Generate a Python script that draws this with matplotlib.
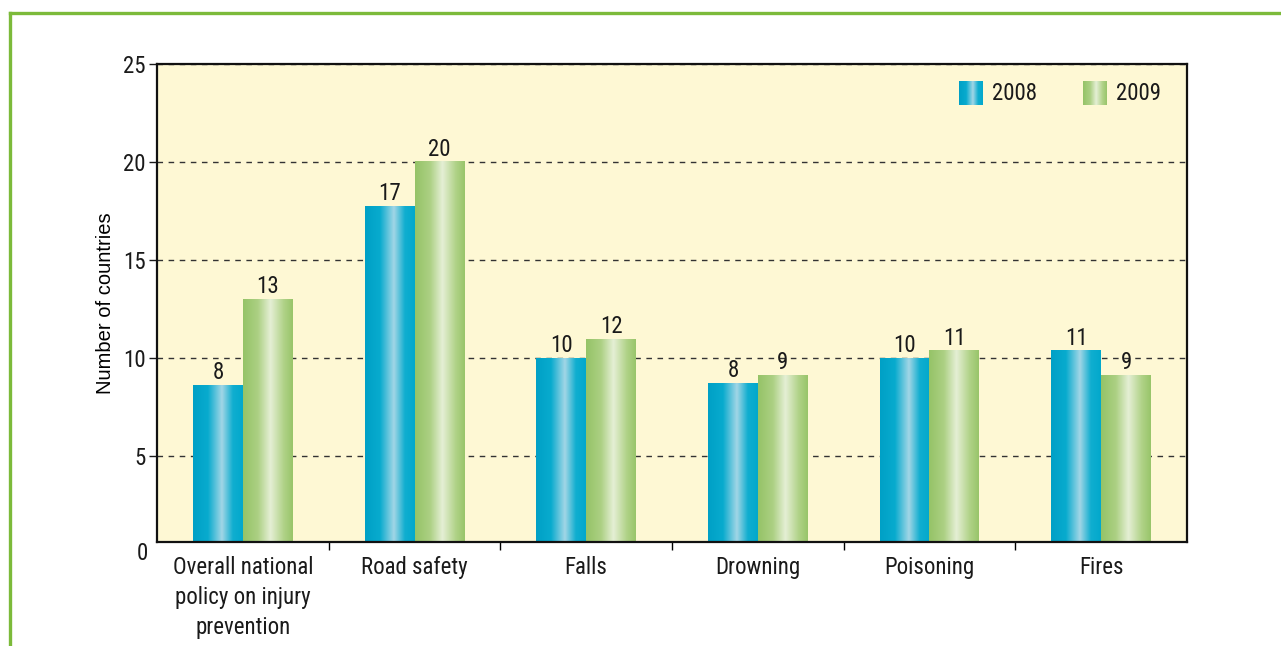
import matplotlib.pyplot as plt
import numpy as np
from matplotlib.colors import to_rgb
from matplotlib.lines import Line2D
from matplotlib import font_manager

# pick a narrow face if one is installed
installed = {f.name for f in font_manager.fontManager.ttflist}
narrow = [f for f in ['Liberation Sans Narrow', 'Roboto Condensed', 'Open Sans Condensed',
                      'Noto Sans Condensed', 'DejaVu Sans Condensed'] if f in installed]
plt.rcParams['font.family'] = narrow[:1] + ['DejaVu Sans']
size = 16.5 if narrow and narrow[0] != 'DejaVu Sans Condensed' else 14

# data
categories = ['Overall national\npolicy on injury\nprevention', 'Road safety', 'Falls',
              'Drowning', 'Poisoning', 'Fires']
years = ['2008', '2009']
heights_2008 = [8.6, 17.75, 9.95, 8.7, 9.95, 10.35]
heights_2009 = [13.0, 20.0, 10.95, 9.1, 10.35, 9.1]
labels_2008 = [8, 17, 10, 8, 10, 11]
labels_2009 = [13, 20, 12, 9, 11, 9]
y_ticks = [5, 10, 15, 20, 25]

blue_stops = [(0.0, '#00a0c6'), (0.3, '#08abce'), (0.58, '#a2d6e6'), (0.8, '#10aed0'), (1.0, '#02a8cc')]
green_stops = [(0.0, '#95c367'), (0.3, '#acd083'), (0.55, '#e5efd5'), (0.82, '#b0d287'), (1.0, '#98c56a')]


def gradient(stops, n=200):
    pos = [s[0] for s in stops]
    cols = np.array([to_rgb(s[1]) for s in stops])
    t = np.linspace(0, 1, n)
    img = np.stack([np.interp(t, pos, cols[:, k]) for k in range(3)], axis=-1)
    return img[np.newaxis, :, :]


fig = plt.figure(figsize=(12.81, 6.46), dpi=100)
ax = fig.add_axes([157 / 1281, 1 - 542 / 646, 1030 / 1281, 478 / 646])
ax.set_facecolor('#fef8d4')

x = np.arange(len(categories))
w = 0.29
series = [(heights_2008, labels_2008, blue_stops, -w / 2),
          (heights_2009, labels_2009, green_stops, w / 2)]

for heights, labels, stops, off in series:
    bars = ax.bar(x + off, heights, w, color=to_rgb(stops[0][1]), zorder=2, linewidth=0)
    img = gradient(stops)
    for b, lab in zip(bars, labels):
        x0, y0 = b.get_x(), b.get_y()
        ax.imshow(img, extent=(x0, x0 + b.get_width(), y0, y0 + b.get_height()),
                  aspect='auto', zorder=2.1, interpolation='bilinear')
        ax.annotate(str(lab), (x0 + b.get_width() / 2, b.get_height()), xytext=(0, 1),
                    textcoords='offset points', ha='center', va='bottom', fontsize=size,
                    color='#1a1a1a', zorder=3)

ax.set_xlim(-0.5, len(categories) - 0.5)
ax.set_ylim(0.6, 25)

ax.set_yticks(y_ticks)
ax.tick_params(axis='y', length=6, width=1, labelsize=size, pad=2, colors='#1a1a1a')
ax.annotate('0', (0, 0), xycoords=ax.get_yaxis_transform(), xytext=(-6.5, 0),
            textcoords='offset points', ha='right', va='center', fontsize=size,
            color='#1a1a1a', annotation_clip=False)

ax.set_xticks(x)
ax.set_xticklabels(categories, fontsize=size, linespacing=1.4)
ax.set_xticks(x[:-1] + 0.5, minor=True)
ax.tick_params(axis='x', which='major', length=0, pad=10, colors='#1a1a1a')
ax.tick_params(axis='x', which='minor', length=6, width=1)

ax.yaxis.grid(True, linestyle=(0, (4, 4)), color='#333333', linewidth=1)
ax.set_axisbelow(True)
for s in ax.spines.values():
    s.set_linewidth(1.6)
    s.set_color('#111111')

ax.set_ylabel('Number of countries', fontsize=14.5, family=['Liberation Sans', 'DejaVu Sans'])
ax.yaxis.set_label_coords(-0.041, 0.5)

# legend drawn by hand, so the swatches keep the gradient
for i, (yr, stops) in enumerate(zip(years, [blue_stops, green_stops])):
    lx = (959 + i * 124 - 157) / 1030
    ax.imshow(gradient(stops), extent=(lx, lx + 24 / 1030, 1 - 41 / 478, 1 - 17 / 478),
              transform=ax.transAxes, aspect='auto', zorder=4)
    ax.text(lx + 33 / 1030, 1 - 29 / 478, yr, transform=ax.transAxes, fontsize=size,
            va='center', ha='left', color='#1a1a1a')

# green frame around the panel
fig.add_artist(Line2D([10 / 1281, 10 / 1281], [0, 1 - 13 / 646], color='#7cba3a', lw=2.4))
fig.add_artist(Line2D([10 / 1281, 1], [1 - 13 / 646, 1 - 13 / 646], color='#7cba3a', lw=2.4))

fig.savefig('out.png', dpi=100)
